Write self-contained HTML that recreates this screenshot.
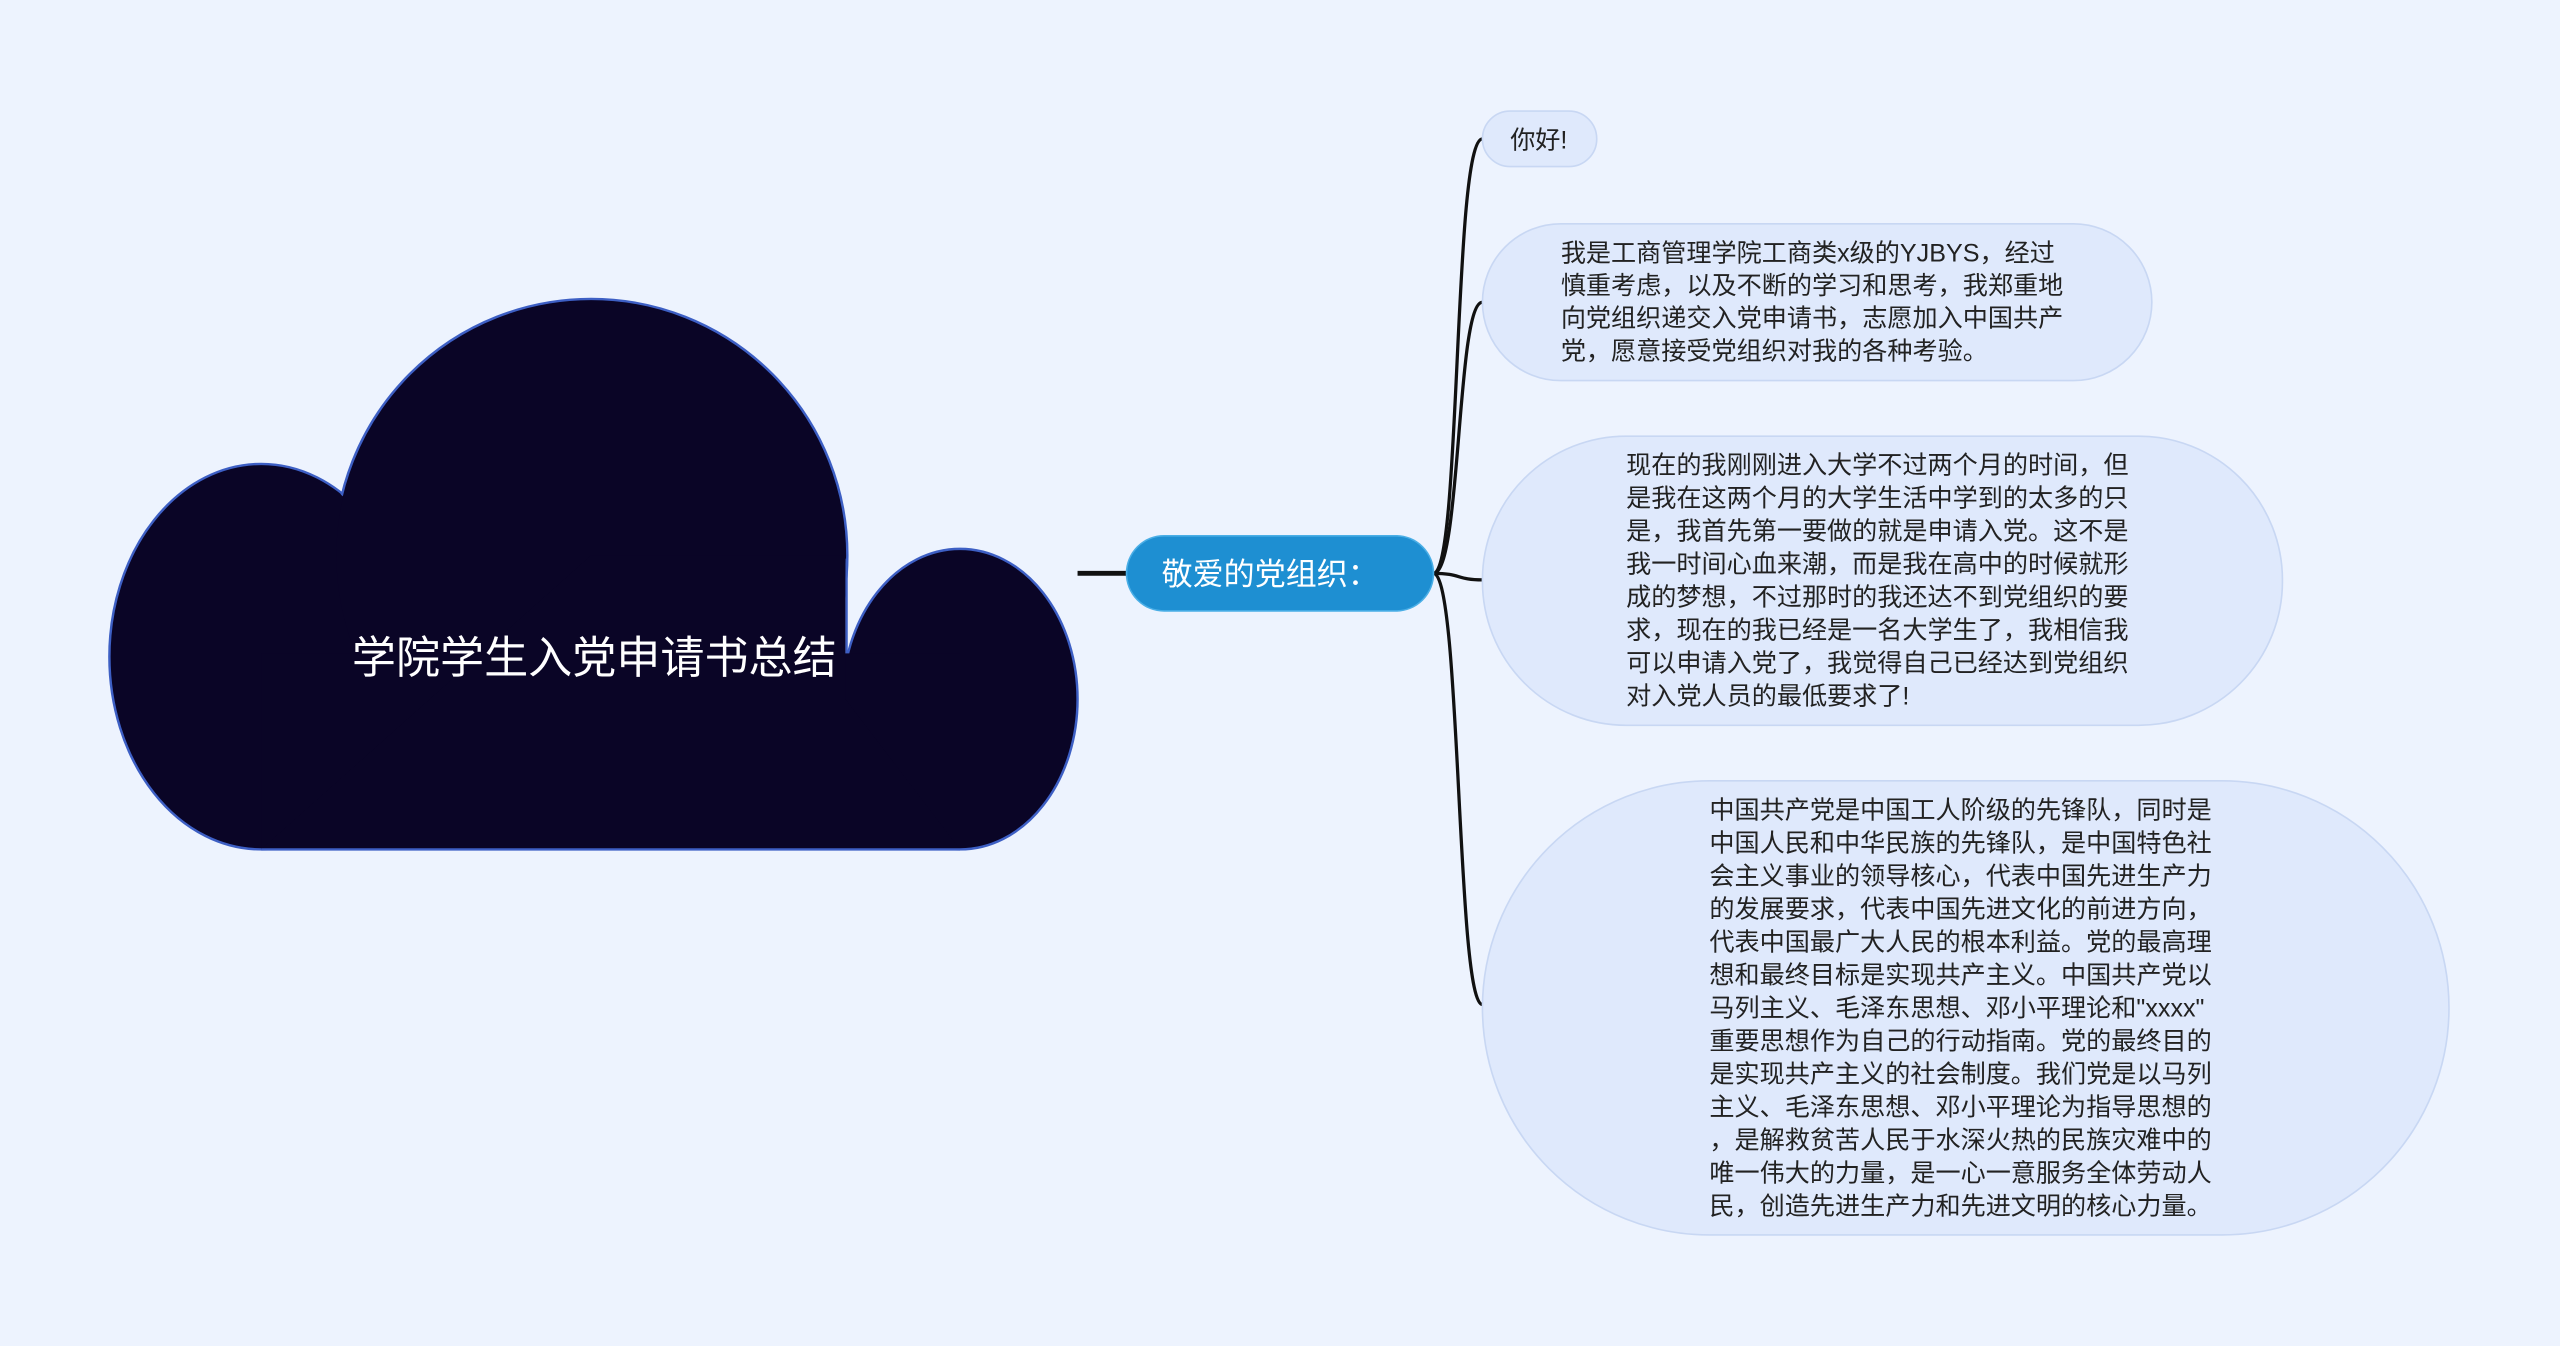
<!DOCTYPE html>
<html><head><meta charset="utf-8"><style>
html,body{margin:0;padding:0;background:#edf3fe;}
svg{display:block;}
text{font-family:"Liberation Sans","Noto Sans CJK SC",sans-serif;}
</style></head><body>
<svg width="2560" height="1346" viewBox="0 0 1568 824" preserveAspectRatio="none" xmlns="http://www.w3.org/2000/svg">
<defs><clipPath id="c"><rect x="0" y="0" width="700" height="520.8"/></clipPath></defs>
<rect width="1568" height="824" fill="#edf3fe"/>
<g clip-path="url(#c)">
<g fill="#0a0526" stroke="#3d5fc4" stroke-width="1.5">
<ellipse cx="160" cy="402" rx="93" ry="118"/>
<circle cx="362" cy="340" r="157"/>
<ellipse cx="588" cy="428" rx="72" ry="92"/>
</g>
<line x1="518.5" y1="342" x2="518.5" y2="428" stroke="#3d5fc4" stroke-width="1.5"/>
<g fill="#0a0526">
<ellipse cx="160" cy="402" rx="92" ry="117"/>
<circle cx="362" cy="340" r="156"/>
<ellipse cx="588" cy="428" rx="71" ry="91"/>
<rect x="160" y="400" width="428" height="120"/>
<polygon points="362,340 517.8,340 517.8,428 588,520 160,520"/>
</g>
</g>
<line x1="160" y1="520" x2="588" y2="520" stroke="#3d5fc4" stroke-width="1.5"/>
<text x="364" y="412" fill="#ffffff" font-size="27" text-anchor="middle">学院学生入党申请书总结</text>
<line x1="660" y1="351" x2="691" y2="351" stroke="#111" stroke-width="3"/>
<g fill="none" stroke="#111" stroke-width="2">
<path d="M878,351 C895,351 890,85 908,85"/>
<path d="M878,351 C895,351 892,185 908,185"/>
<path d="M878,351 C895,351 892,355 908,355"/>
<path d="M878,351 C895,351 892,615 908,615"/>
</g>
<rect x="690" y="328" width="188" height="46" rx="23" fill="#1e8fd2" stroke="#4aaee6"/>
<text x="778" y="358" fill="#fff" font-size="19" text-anchor="middle">敬爱的党组织：</text>
<g fill="#dfe9fc" stroke="#c8d7f3" stroke-width="1">
<rect x="908" y="68" width="70" height="34" rx="17"/>
<rect x="908" y="137" width="410" height="96" rx="48"/>
<rect x="908" y="267" width="490" height="177" rx="88"/>
<rect x="908" y="478" width="592" height="278" rx="139"/>
</g>
<g fill="#222" font-size="15.4">
<text x="925" y="91">你好!</text>
<text x="956" y="160"><tspan x="956">我是工商管理学院工商类x级的YJBYS，经过</tspan><tspan x="956" dy="20">慎重考虑，以及不断的学习和思考，我郑重地</tspan><tspan x="956" dy="20">向党组织递交入党申请书，志愿加入中国共产</tspan><tspan x="956" dy="20">党，愿意接受党组织对我的各种考验。</tspan></text>
<text x="996" y="290"><tspan x="996">现在的我刚刚进入大学不过两个月的时间，但</tspan><tspan x="996" dy="20.2">是我在这两个月的大学生活中学到的太多的只</tspan><tspan x="996" dy="20.2">是，我首先第一要做的就是申请入党。这不是</tspan><tspan x="996" dy="20.2">我一时间心血来潮，而是我在高中的时候就形</tspan><tspan x="996" dy="20.2">成的梦想，不过那时的我还达不到党组织的要</tspan><tspan x="996" dy="20.2">求，现在的我已经是一名大学生了，我相信我</tspan><tspan x="996" dy="20.2">可以申请入党了，我觉得自己已经达到党组织</tspan><tspan x="996" dy="20.2">对入党人员的最低要求了!</tspan></text>
<text x="1047" y="501"><tspan x="1047">中国共产党是中国工人阶级的先锋队，同时是</tspan><tspan x="1047" dy="20.2">中国人民和中华民族的先锋队，是中国特色社</tspan><tspan x="1047" dy="20.2">会主义事业的领导核心，代表中国先进生产力</tspan><tspan x="1047" dy="20.2">的发展要求，代表中国先进文化的前进方向，</tspan><tspan x="1047" dy="20.2">代表中国最广大人民的根本利益。党的最高理</tspan><tspan x="1047" dy="20.2">想和最终目标是实现共产主义。中国共产党以</tspan><tspan x="1047" dy="20.2">马列主义、毛泽东思想、邓小平理论和"xxxx"</tspan><tspan x="1047" dy="20.2">重要思想作为自己的行动指南。党的最终目的</tspan><tspan x="1047" dy="20.2">是实现共产主义的社会制度。我们党是以马列</tspan><tspan x="1047" dy="20.2">主义、毛泽东思想、邓小平理论为指导思想的</tspan><tspan x="1047" dy="20.2">，是解救贫苦人民于水深火热的民族灾难中的</tspan><tspan x="1047" dy="20.2">唯一伟大的力量，是一心一意服务全体劳动人</tspan><tspan x="1047" dy="20.2">民，创造先进生产力和先进文明的核心力量。</tspan></text>
</g>
</svg>
</body></html>
